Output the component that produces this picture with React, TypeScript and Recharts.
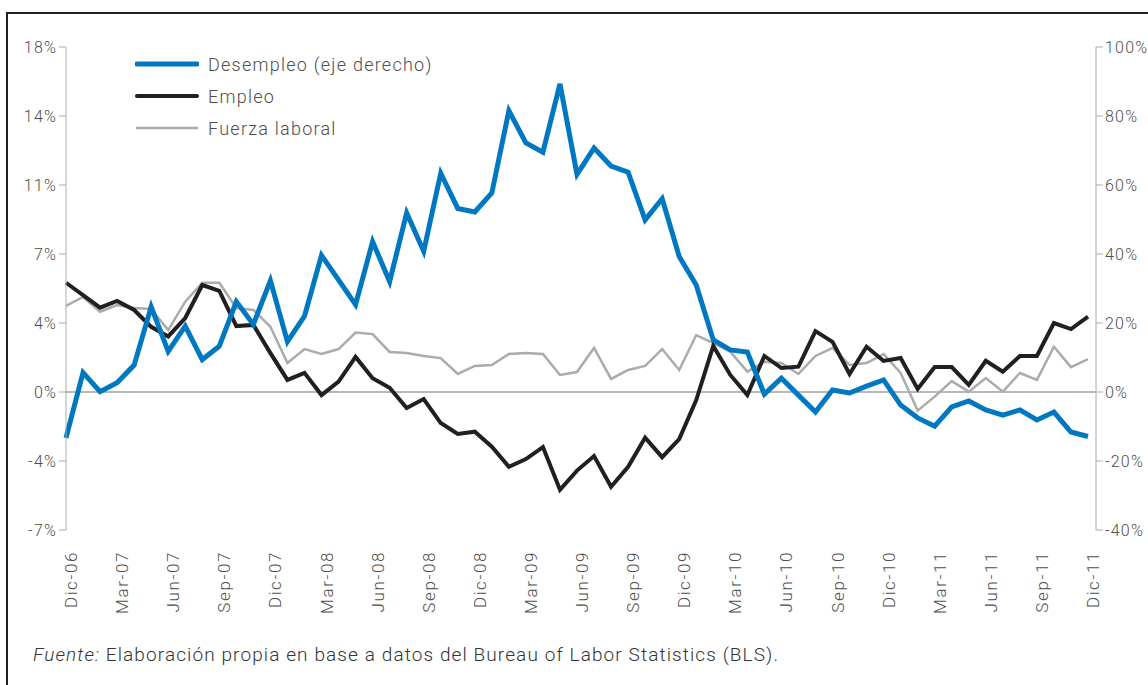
import React from 'react';
import { LineChart, Line, XAxis, YAxis, ReferenceLine, Legend } from 'recharts';

// meses (Dic-06 a Dic-11)
const meses = [
  'Dic-06', 'Ene-07', 'Feb-07', 'Mar-07', 'Abr-07', 'May-07', 'Jun-07', 'Jul-07', 'Ago-07', 'Sep-07', 'Oct-07', 'Nov-07',
  'Dic-07', 'Ene-08', 'Feb-08', 'Mar-08', 'Abr-08', 'May-08', 'Jun-08', 'Jul-08', 'Ago-08', 'Sep-08', 'Oct-08', 'Nov-08',
  'Dic-08', 'Ene-09', 'Feb-09', 'Mar-09', 'Abr-09', 'May-09', 'Jun-09', 'Jul-09', 'Ago-09', 'Sep-09', 'Oct-09', 'Nov-09',
  'Dic-09', 'Ene-10', 'Feb-10', 'Mar-10', 'Abr-10', 'May-10', 'Jun-10', 'Jul-10', 'Ago-10', 'Sep-10', 'Oct-10', 'Nov-10',
  'Dic-10', 'Ene-11', 'Feb-11', 'Mar-11', 'Abr-11', 'May-11', 'Jun-11', 'Jul-11', 'Ago-11', 'Sep-11', 'Oct-11', 'Nov-11',
  'Dic-11',
];

// eje derecho
const desempleo = [
  -13.3, 5.6, 0.1, 2.7, 7.8, 24.7, 11.8, 19.1, 9.4, 13.3, 26.2, 19.6,
  32.3, 14.6, 22, 39.6, 32.5, 25.3, 43.6, 32, 51.9, 40.8, 63.4, 53.2,
  52.2, 57.7, 81.5, 72.2, 69.5, 89.3, 63.1, 70.7, 65.5, 63.7, 49.9, 56,
  39.3, 31, 15.1, 12.2, 11.6, -0.6, 4, -0.9, -5.8, 0.6, -0.3, 1.7,
  3.5, -3.8, -7.5, -9.9, -4.3, -2.6, -5.2, -6.7, -5.2, -8.1, -5.8, -11.6,
  -12.9,
];

// eje izquierdo
const empleo = [
  5.7, 5.06, 4.4, 4.75, 4.28, 3.4, 2.9, 3.86, 5.58, 5.28, 3.44, 3.5,
  2.03, 0.63, 1.0, -0.16, 0.54, 1.83, 0.72, 0.22, -0.84, -0.37, -1.62, -2.19,
  -2.07, -2.85, -3.9, -3.5, -2.87, -5.1, -4.1, -3.34, -4.94, -3.9, -2.38, -3.4,
  -2.46, -0.42, 2.4, 0.89, -0.16, 1.88, 1.25, 1.32, 3.18, 2.62, 0.94, 2.36,
  1.62, 1.77, 0.16, 1.3, 1.3, 0.37, 1.63, 1.06, 1.88, 1.88, 3.6, 3.28,
  3.93,
];

const fuerzaLaboral = [
  4.49, 4.96, 4.19, 4.54, 4.38, 4.33, 3.23, 4.71, 5.7, 5.7, 4.38, 4.28,
  3.4, 1.51, 2.24, 1.98, 2.24, 3.1, 3.02, 2.09, 2.03, 1.88, 1.77, 0.94,
  1.36, 1.41, 1.98, 2.03, 1.98, 0.89, 1.04, 2.3, 0.68, 1.15, 1.36, 2.24,
  1.15, 2.97, 2.55, 2.1, 1.06, 1.58, 1.51, 0.94, 1.88, 2.3, 1.41, 1.51,
  1.98, 0.99, -0.97, -0.24, 0.57, 0.02, 0.73, 0.02, 0.99, 0.63, 2.36, 1.3,
  1.72,
];

const ticksIzq = [-7.2, -3.6, 0, 3.6, 7.2, 10.8, 14.4, 18];
const ticksDer = [-40, -20, 0, 20, 40, 60, 80, 100];

const series = [
  { key: 'desempleo', name: 'Desempleo (eje derecho)', color: '#0078c1', width: 5 },
  { key: 'empleo', name: 'Empleo', color: '#231f20', width: 4 },
  { key: 'fuerza', name: 'Fuerza laboral', color: '#ababab', width: 2.5 },
];

const data = meses.map((mes, i) => ({
  mes,
  desempleo: desempleo[i],
  empleo: empleo[i],
  fuerza: fuerzaLaboral[i],
}));

const TEXTO = '#4d4d4d';

const MesTick = ({ x, y, payload }: any) => (
  <text
    x={0}
    y={0}
    transform={`translate(${x + 11},${y + 13}) rotate(-90)`}
    textAnchor="end"
    fill={TEXTO}
    fontSize={17}
    style={{ letterSpacing: 1.6 }}
  >
    {payload.value}
  </text>
);

const Leyenda = () => (
  <div>
    {series.map(s => (
      <div key={s.key} style={{ display: 'flex', alignItems: 'center', height: 32 }}>
        <svg width={64} height={10}>
          <line x1={2} y1={5} x2={62} y2={5} stroke={s.color} strokeWidth={s.width} strokeLinecap="round" />
        </svg>
        <span style={{ marginLeft: 9, fontSize: 18, color: TEXTO, letterSpacing: 1.25 }}>{s.name}</span>
      </div>
    ))}
  </div>
);

const tickY = { fill: TEXTO, fontSize: 16, style: { letterSpacing: 1.2 } };

export default function App() {
  return (
    <div style={{ position: 'relative', width: 1148, height: 685, background: '#fff', fontFamily: 'Roboto, sans-serif', fontWeight: 300, overflow: 'hidden' }}>
      <style>{'body{margin:0}'}</style>
      <div style={{ position: 'absolute', left: 6, top: 12, width: 1200, height: 700, borderLeft: '2px solid #231f20', borderTop: '2px solid #231f20' }} />
      <div style={{ position: 'absolute', left: 0, top: 0 }}>
        <LineChart width={1148} height={620} data={data} margin={{ top: 47, right: 0, bottom: 0, left: 0 }}>
          <XAxis
            dataKey="mes"
            interval={2}
            tick={<MesTick />}
            tickLine={false}
            axisLine={false}
            height={90}
            padding={{ left: 0, right: 8 }}
          />
          <YAxis
            yAxisId="izq"
            domain={[-7.2, 18]}
            ticks={ticksIzq}
            tickFormatter={(v: number) => `${Math.round(v)}%`}
            width={66}
            stroke="#ababab"
            tick={tickY}
            tickSize={7}
          />
          <YAxis
            yAxisId="der"
            orientation="right"
            domain={[-40, 100]}
            ticks={ticksDer}
            tickFormatter={(v: number) => `${v}%`}
            width={52}
            stroke="#ababab"
            tick={tickY}
            tickSize={7}
          />
          <ReferenceLine yAxisId="izq" y={0} stroke="#a0a0a0" strokeWidth={1.5} />
          <Legend
            layout="horizontal"
            verticalAlign="middle"
            align="center"
            content={<Leyenda />}
            wrapperStyle={{ left: 135, top: 48, width: 'auto' }}
          />
          <Line yAxisId="izq" type="linear" dataKey="fuerza" name="Fuerza laboral" stroke="#ababab" strokeWidth={2.5} dot={false} isAnimationActive={false} />
          <Line yAxisId="izq" type="linear" dataKey="empleo" name="Empleo" stroke="#231f20" strokeWidth={4} dot={false} isAnimationActive={false} />
          <Line yAxisId="der" type="linear" dataKey="desempleo" name="Desempleo (eje derecho)" stroke="#0078c1" strokeWidth={5} dot={false} isAnimationActive={false} />
        </LineChart>
      </div>
      <div style={{ position: 'absolute', left: 33, top: 643, fontSize: 19, color: '#333', letterSpacing: 1.1 }}>
        <i>Fuente:</i> Elaboración propia en base a datos del Bureau of Labor Statistics (BLS).
      </div>
    </div>
  );
}
